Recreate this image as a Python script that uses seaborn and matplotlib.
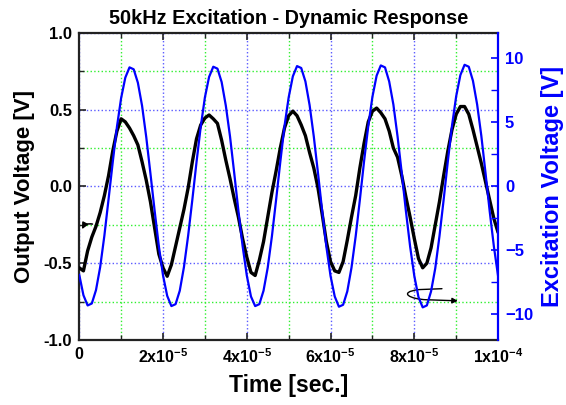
import numpy as np
import matplotlib
matplotlib.use("Agg")
import matplotlib.pyplot as plt
import seaborn as sns
from matplotlib.ticker import MultipleLocator, FixedLocator, FixedFormatter
from matplotlib.patches import FancyArrowPatch
from matplotlib.path import Path

time = np.linspace(0, 1e-4, 101)

output_v = [
    -0.53, -0.55, -0.42, -0.33, -0.26, -0.17, -0.06, 0.07, 0.23, 0.36,
    0.44, 0.42, 0.38, 0.33, 0.27, 0.16, 0.04, -0.10, -0.27, -0.44,
    -0.53, -0.585, -0.51, -0.39, -0.27, -0.15, -0.01, 0.16, 0.31, 0.40,
    0.445, 0.465, 0.44, 0.41, 0.30, 0.17, 0.05, -0.08, -0.20, -0.34,
    -0.46, -0.56, -0.58, -0.48, -0.36, -0.20, -0.04, 0.10, 0.25, 0.38,
    0.46, 0.49, 0.46, 0.40, 0.33, 0.22, 0.12, -0.01, -0.18, -0.36,
    -0.49, -0.55, -0.56, -0.49, -0.35, -0.20, -0.06, 0.12, 0.28, 0.42,
    0.49, 0.51, 0.48, 0.44, 0.36, 0.25, 0.19, 0.07, -0.07, -0.20,
    -0.34, -0.47, -0.53, -0.50, -0.40, -0.25, -0.10, 0.07, 0.23, 0.37,
    0.47, 0.52, 0.52, 0.47, 0.37, 0.26, 0.15, 0.03, -0.09, -0.21,
    -0.30,
]

excite_v = [
    -6.9, -8.5, -9.3, -9.15, -8.1, -6.3, -3.85, -1.0, 1.9, 4.65,
    6.9, 8.5, 9.3, 9.15, 8.1, 6.3, 3.85, 1.0, -1.9, -4.65,
    -6.95, -8.55, -9.35, -9.2, -8.15, -6.3, -3.85, -1.05, 1.9, 4.65,
    6.95, 8.55, 9.35, 9.2, 8.15, 6.3, 3.9, 1.05, -1.9, -4.65,
    -6.95, -8.6, -9.35, -9.2, -8.15, -6.35, -3.9, -1.05, 1.9, 4.7,
    6.95, 8.6, 9.4, 9.25, 8.2, 6.35, 3.9, 1.05, -1.9, -4.7,
    -7.0, -8.6, -9.4, -9.25, -8.2, -6.35, -3.9, -1.05, 1.95, 4.7,
    7.0, 8.65, 9.45, 9.3, 8.2, 6.4, 3.9, 1.05, -1.95, -4.7,
    -7.0, -8.65, -9.45, -9.3, -8.2, -6.4, -3.9, -1.05, 1.95, 4.75,
    7.05, 8.7, 9.5, 9.35, 8.25, 6.4, 3.95, 1.05, -1.95, -4.7,
    -7.0,
]

x_ticks = [0, 2e-5, 4e-5, 6e-5, 8e-5, 1e-4]
x_labels = ["0", "2x10$^{-5}$", "4x10$^{-5}$", "6x10$^{-5}$", "8x10$^{-5}$", "1x10$^{-4}$"]

sns.set_style("ticks")
plt.rcParams["font.family"] = ["Liberation Sans", "DejaVu Sans"]
plt.rcParams["font.weight"] = "bold"
plt.rcParams["text.color"] = "black"
plt.rcParams["axes.labelcolor"] = "black"
plt.rcParams["xtick.color"] = "black"
plt.rcParams["ytick.color"] = "black"
plt.rcParams["mathtext.fontset"] = "custom"
plt.rcParams["mathtext.rm"] = "Liberation Sans:bold"
plt.rcParams["mathtext.bf"] = "Liberation Sans:bold"
plt.rcParams["mathtext.default"] = "bf"

fig = plt.figure(figsize=(5.66, 4.05), dpi=100)
ax = fig.add_axes([0.140, 0.1605, 0.740, 0.7585])
ax2 = ax.twinx()

# grid: blue on majors, green on minors
ax.set_axisbelow(True)
ax.grid(which="major", color="#5a5aff", linestyle=":", linewidth=1.0)
ax.grid(which="minor", color="#30f030", linestyle=":", linewidth=1.0)

sns.lineplot(x=time, y=output_v, ax=ax, color="black", linewidth=2.4, zorder=3)
sns.lineplot(x=time, y=excite_v, ax=ax2, color="#0000ff", linewidth=1.6)

ax.set_xlim(0, 1e-4)
ax.set_ylim(-1.0, 1.0)
ax2.set_ylim(-12, 12)

ax.xaxis.set_major_locator(FixedLocator(x_ticks))
ax.xaxis.set_major_formatter(FixedFormatter(x_labels))
ax.xaxis.set_minor_locator(MultipleLocator(1e-5))
ax.yaxis.set_major_locator(MultipleLocator(0.5))
ax.yaxis.set_minor_locator(MultipleLocator(0.25))
ax.yaxis.set_major_formatter(matplotlib.ticker.FormatStrFormatter("%.1f"))
ax2.yaxis.set_major_locator(MultipleLocator(5))
ax2.yaxis.set_minor_locator(MultipleLocator(2.5))

ax.tick_params(which="both", direction="in", top=True, right=False,
               color="#222222", labelcolor="black", pad=5)
ax.tick_params(axis="y", labelsize=12)
ax.tick_params(axis="x", labelsize=11.5)
ax.tick_params(which="major", length=5, width=1.2)
ax.tick_params(which="minor", length=3.5, width=1.0)
ax2.tick_params(which="both", direction="in", colors="#0000ff",
                labelsize=12, pad=5)
ax2.tick_params(which="major", length=5, width=1.2)
ax2.tick_params(which="minor", length=5, width=1.0)

for s in ["left", "bottom", "top"]:
    ax.spines[s].set_color("#222222")
    ax.spines[s].set_linewidth(1.6)
ax.spines["right"].set_visible(False)
for s in ["left", "bottom", "top"]:
    ax2.spines[s].set_visible(False)
ax2.spines["right"].set_color("#0000ff")
ax2.spines["right"].set_linewidth(1.6)

ax.set_xlabel("Time [sec.]", fontsize=16.5, fontweight="bold", labelpad=6)
ax.set_ylabel("Output Voltage [V]", fontsize=16, fontweight="bold", labelpad=6)
ax2.set_ylabel("Excitation Voltage [V]", fontsize=17, fontweight="bold",
               color="#0000ff", labelpad=6)
ax.set_title("50kHz Excitation - Dynamic Response", fontsize=14.3,
             fontweight="bold", pad=6)

# arrow pointing at the left axis curve
ax.annotate("", xy=(0.4e-6, -0.295), xytext=(3.8e-6, -0.25),
            arrowprops=dict(arrowstyle="-|>", color="black", lw=1.1,
                            mutation_scale=9,
                            connectionstyle="arc3,rad=0.5"))

# looped arrow pointing at the right axis curve
verts = [(8.66e-5, -0.666), (8.1e-5, -0.672),
         (7.6e-5, -0.69), (7.9e-5, -0.735), (8.3e-5, -0.738),
         (9.04e-5, -0.745)]
codes = [Path.MOVETO, Path.LINETO, Path.CURVE4, Path.CURVE4, Path.CURVE4,
         Path.LINETO]
loop = FancyArrowPatch(path=Path(verts, codes), arrowstyle="-|>",
                       mutation_scale=8, color="black", lw=1.0,
                       transform=ax.transData, zorder=5)
ax.add_patch(loop)

fig.savefig("out.png", dpi=100)
